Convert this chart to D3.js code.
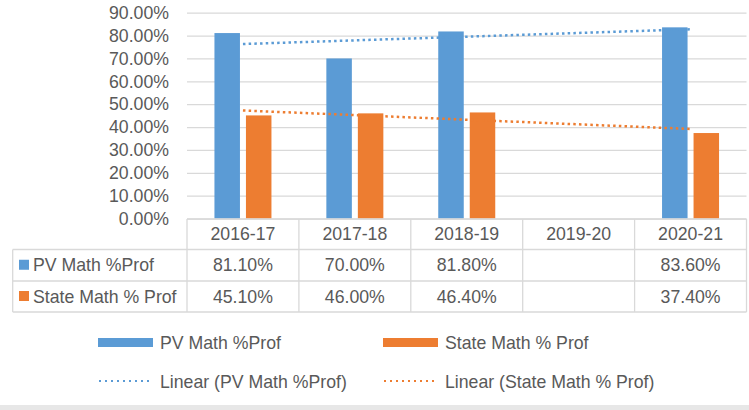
<!doctype html>
<html lang="en-us">
<head>
<meta charset="utf-8">
<title>PV Math %Prof vs State</title>
<script src="https://cdn.jsdelivr.net/npm/d3@7/dist/d3.min.js"></script>
<style type="text/css">
html, body { margin:0; padding:0; background:#fff; }
svg text { font-family: "Liberation Sans", Arial, sans-serif; font-size:17.7px; fill:#595959; }
.grid line { stroke:#d9d9d9; stroke-width:1.3px; }
.tbl line { stroke:#d9d9d9; stroke-width:1.3px; }
</style>
</head>
<body>
<svg id="chart" width="749" height="410"></svg>
<script type="text/javascript">
const years = ["2016-17", "2017-18", "2018-19", "2019-20", "2020-21"];
const pvMath = [81.1, 70.0, 81.8, null, 83.6];
const stateMath = [45.1, 46.0, 46.4, null, 37.4];
const yTicks = [0, 10, 20, 30, 40, 50, 60, 70, 80, 90];

const series = [
  {name: "PV Math %Prof", values: pvMath, color: "#5b9bd5"},
  {name: "State Math % Prof", values: stateMath, color: "#ed7d31"}
];

const svg = d3.select("#chart");
const plotL = 187, plotR = 746.5, plotT = 12.7, plotB = 218.6;

const x = d3.scaleBand().domain(years).range([plotL, plotR]).paddingInner(0).paddingOuter(0);
const y = d3.scaleLinear().domain([0, 90]).range([plotB, plotT]);

// gridlines + y labels
const yAxis = d3.axisLeft(y)
  .tickValues(yTicks)
  .tickSizeInner(-(plotR - plotL))
  .tickSizeOuter(0)
  .tickPadding(18)
  .tickFormat(d => d.toFixed(2) + "%");
const gy = svg.append("g").attr("class", "grid")
  .attr("transform", "translate(" + plotL + ",0)")
  .call(yAxis);
gy.select(".domain").remove();
gy.selectAll("text").attr("fill", "#595959").style("font-size", "17.7px")
  .style("font-family", '"Liberation Sans", Arial, sans-serif');

// bars
const barW = 25.5, gap = 6;
series.forEach((s, i) => {
  svg.append("g").selectAll("rect")
    .data(years.map((yr, j) => ({yr: yr, v: s.values[j]})).filter(d => d.v !== null))
    .enter().append("rect")
    .attr("x", d => x(d.yr) + x.bandwidth() / 2 + (i === 0 ? -gap / 2 - barW : gap / 2))
    .attr("y", d => y(d.v))
    .attr("width", barW)
    .attr("height", d => plotB - y(d.v))
    .attr("fill", s.color);
});

// linear trendlines (least squares on category index, blanks skipped)
function linFit(vals) {
  const pts = vals.map((v, j) => [j + 1, v]).filter(p => p[1] !== null);
  const mx = d3.mean(pts, p => p[0]), my = d3.mean(pts, p => p[1]);
  const sxy = d3.sum(pts, p => (p[0] - mx) * (p[1] - my));
  const sxx = d3.sum(pts, p => (p[0] - mx) * (p[0] - mx));
  const b = sxy / sxx;
  return k => my + b * (k - mx);
}
const line = d3.line().x(d => d[0]).y(d => d[1]);
series.forEach(s => {
  const f = linFit(s.values);
  const ends = [1, years.length].map(k => [x(years[k - 1]) + x.bandwidth() / 2, y(f(k))]);
  svg.append("path")
    .attr("d", line(ends))
    .attr("fill", "none")
    .attr("stroke", s.color)
    .attr("stroke-width", 2.5)
    .attr("stroke-dasharray", "2.5,3.2");
});

// data table
const rowY = [219, 249.5, 281, 312];
const tableL = 12.7;
const tbl = svg.append("g").attr("class", "tbl");
// horizontal lines
tbl.append("line").attr("x1", plotL).attr("x2", plotR).attr("y1", rowY[0]).attr("y2", rowY[0]);
[1, 2, 3].forEach(r => {
  tbl.append("line").attr("x1", tableL).attr("x2", plotR).attr("y1", rowY[r]).attr("y2", rowY[r]);
});
// vertical lines
tbl.append("line").attr("x1", tableL).attr("x2", tableL).attr("y1", rowY[1]).attr("y2", rowY[3]);
years.forEach(yr => {
  tbl.append("line").attr("x1", x(yr)).attr("x2", x(yr)).attr("y1", rowY[0]).attr("y2", rowY[3]);
});
tbl.append("line").attr("x1", plotR).attr("x2", plotR).attr("y1", rowY[0]).attr("y2", rowY[3]);

// header
tbl.selectAll("text.hdr").data(years).enter().append("text")
  .attr("class", "hdr")
  .attr("x", d => x(d) + x.bandwidth() / 2)
  .attr("y", (rowY[0] + rowY[1]) / 2 + 6)
  .attr("text-anchor", "middle")
  .text(d => d);

series.forEach((s, i) => {
  const cy = (rowY[i + 1] + rowY[i + 2]) / 2;
  tbl.append("rect").attr("x", 19).attr("y", cy - 5.5).attr("width", 10).attr("height", 10).attr("fill", s.color);
  tbl.append("text").attr("x", 33).attr("y", cy + 6).text(s.name);
  tbl.selectAll("text.v" + i)
    .data(years.map((yr, j) => ({yr: yr, v: s.values[j]})).filter(d => d.v !== null))
    .enter().append("text")
    .attr("x", d => x(d.yr) + x.bandwidth() / 2)
    .attr("y", cy + 6)
    .attr("text-anchor", "middle")
    .text(d => d.v.toFixed(2) + "%");
});

// legend
const legX = [98, 383];
series.forEach((s, i) => {
  svg.append("rect").attr("x", legX[i]).attr("y", 338).attr("width", 55).attr("height", 9).attr("fill", s.color);
  svg.append("text").attr("x", legX[i] + 62).attr("y", 348.5).text(s.name);
  svg.append("line").attr("x1", legX[i] + 1).attr("x2", legX[i] + 54).attr("y1", 381).attr("y2", 381)
    .attr("stroke", s.color).attr("stroke-width", 2).attr("stroke-dasharray", "2,4");
  svg.append("text").attr("x", legX[i] + 62).attr("y", 387.5).text("Linear (" + s.name + ")");
});

// bottom band
svg.append("rect").attr("x", 0).attr("y", 405).attr("width", 749).attr("height", 5).attr("fill", "#e7e7e7");
</script>
</body>
</html>
